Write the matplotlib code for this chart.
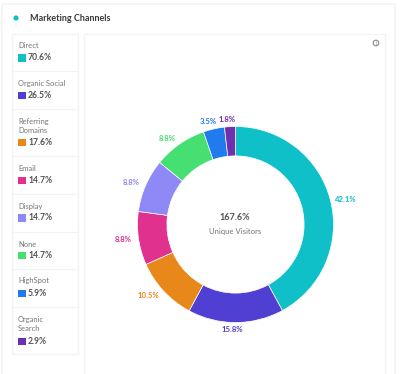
import matplotlib
matplotlib.use("Agg")
import matplotlib.pyplot as plt
from matplotlib.patches import Rectangle, Circle

plt.rcParams["font.family"] = ["Lato", "DejaVu Sans"]

# Legend column
legend_names = ["Direct", "Organic Social", "Referring\nDomains", "Email",
                "Display", "None", "HighSpot", "Organic\nSearch"]
legend_values = ["70.6%", "26.5%", "17.6%", "14.7%", "14.7%", "14.7%", "5.9%", "2.9%"]

# Donut slices, clockwise from the top
slice_values = [42.1, 15.8, 10.5, 8.8, 8.8, 8.8, 3.5, 1.8]
slice_labels = ["42.1%", "15.8%", "10.5%", "8.8%", "8.8%", "8.8%", "3.5%", "1.8%"]
colors = ["#0fc0c9", "#4f3fd2", "#e8871a", "#e0318f",
          "#8f88f7", "#45df72", "#1f7bee", "#6e2fb0"]

W, H = 400, 374
fig = plt.figure(figsize=(W / 100, H / 100), dpi=100)
bg = fig.add_axes([0, 0, 1, 1])
bg.set_xlim(0, W)
bg.set_ylim(H, 0)
bg.axis("off")

border = "#f3f3f3"
# outer card and chart panel
bg.add_patch(Rectangle((2, 4), 393, 372, fc="white", ec=border, lw=1.2))
bg.add_patch(Rectangle((84, 33.5), 301, 342, fc="white", ec=border, lw=1))
bg.add_patch(Rectangle((12, 33.5), 66, 320.5, fc="white", ec=border, lw=1))

# title row
bg.add_patch(Circle((16, 18), 2.6, fc="#0fc0c9", ec="none"))
bg.text(30, 18.5, "Marketing Channels", fontsize=6.5, fontweight="bold",
        color="#3a3a3a", va="center")

# legend rows: top of the name, swatch height, separator
name_y = [45, 83, 126, 168, 206, 244, 281, 324]
swatch_y = [57.5, 95, 142, 180, 217.5, 255, 293, 341]
sep_y = [71, 109, 156, 194, 232, 269, 307]
for name, value, color, ny, sy in zip(legend_names, legend_values, colors, name_y, swatch_y):
    bg.text(18, ny, name, fontsize=5.4, color="#757575", va="center", linespacing=1.35)
    bg.add_patch(Rectangle((18, sy - 3.5), 7.5, 7.5, fc=color, ec="none"))
    bg.text(28, sy + 0.3, value, fontsize=6.2, color="#555555", va="center", fontweight="bold")
for y in sep_y:
    bg.plot([12, 78], [y, y], color=border, lw=0.8)

# info icon
bg.add_patch(Circle((376, 43), 2.8, fc="white", ec="#8a8a8a", lw=0.8))
bg.text(376, 43, "i", fontsize=3.5, color="#8a8a8a", ha="center", va="center")

# donut, centre (235, 224), outer radius 98 px
cx, cy, R = 235.5, 224.5, 98
ax = fig.add_axes([(cx - R) / W, 1 - (cy + R) / H, 2 * R / W, 2 * R / H])
wedges, _ = ax.pie(slice_values, colors=colors, startangle=90, counterclock=False,
                   radius=1, wedgeprops={"width": 0.3, "edgecolor": "white", "linewidth": 0.5})
ax.set_xlim(-1, 1)
ax.set_ylim(-1, 1)

# slice labels just outside the ring
label_pos = [(346, 199), (232, 329), (148, 295), (123, 239), (131, 182),
             (167, 138), (208, 121), (227, 119)]
for text, color, (x, y) in zip(slice_labels, colors, label_pos):
    bg.text(x, y, text, fontsize=5.6, color=color, ha="center", va="center", fontweight="bold")

bg.text(235, 217, "167.6%", fontsize=6.6, color="#555555", ha="center", va="center", fontweight="bold")
bg.text(235, 231, "Unique Visitors", fontsize=5.6, color="#757575", ha="center", va="center")

fig.savefig("out.png", dpi=100)
